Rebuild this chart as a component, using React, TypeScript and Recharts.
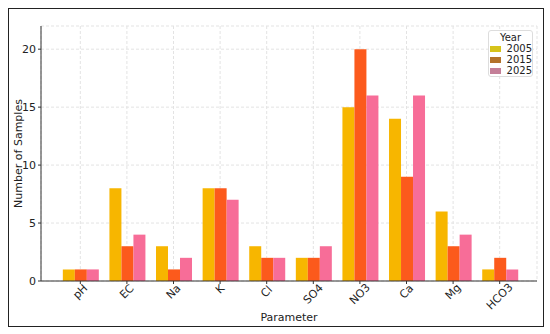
import { BarChart, Bar, XAxis, YAxis, CartesianGrid, Label } from "recharts";

const PARAMETERS = ["pH", "EC", "Na", "K", "Cl", "SO4", "NO3", "Ca", "Mg", "HCO3"];
const Y2005 = [1, 8, 3, 8, 3, 2, 15, 14, 6, 1];
const Y2015 = [1, 3, 1, 8, 2, 2, 20, 9, 3, 2];
const Y2025 = [1, 4, 2, 7, 2, 3, 16, 16, 4, 1];
const YEARS = ["2005", "2015", "2025"];
const Y_TICKS = [0, 5, 10, 15, 20];

const BAR_COLORS = ["#f7b600", "#fc5a1c", "#f76d98"];
const SWATCH_COLORS = ["#d6c31a", "#b3732b", "#c47f98"];

const data = PARAMETERS.map((p, i) => ({
  name: p,
  "2005": Y2005[i],
  "2015": Y2015[i],
  "2025": Y2025[i],
}));

const FONT = "'DejaVu Sans', sans-serif";

function RotatedTick(props: any) {
  const { x, y, payload } = props;
  const label = String(payload.value);
  const w = label.length * 6.8;
  const half = ((w + 11) * 0.707) / 2;
  return (
    <text
      transform={`translate(${x},${y + half - 3}) rotate(-45)`}
      textAnchor="middle"
      dominantBaseline="central"
      fontSize={11}
      fill="#222"
      fontFamily={FONT}
    >
      {label}
    </text>
  );
}

function YearLegend() {
  return (
    <div
      style={{
        position: "absolute",
        left: 488,
        top: 30,
        width: 45,
        height: 47,
        border: "1px solid #ddd",
        borderRadius: 3,
        background: "rgba(255,255,255,0.85)",
        fontFamily: FONT,
        fontSize: 10,
        color: "#222",
        boxSizing: "border-box",
        paddingTop: 1,
      }}
    >
      <div style={{ textAlign: "center", lineHeight: "11px" }}>Year</div>
      {YEARS.map((yr, i) => (
        <div key={yr} style={{ display: "flex", alignItems: "center", height: 11, paddingLeft: 1 }}>
          <span style={{ display: "inline-block", width: 15, height: 6, background: SWATCH_COLORS[i] }} />
          <span style={{ marginLeft: 6, lineHeight: "11px" }}>{yr}</span>
        </div>
      ))}
    </div>
  );
}

export default function App() {
  return (
    <div style={{ position: "absolute", left: 0, top: 0, width: 550, height: 334, background: "#fff" }}>
      <div
        style={{
          position: "absolute",
          left: 8,
          top: 8,
          width: 536,
          height: 319,
          border: "1.5px solid #222",
          boxSizing: "border-box",
        }}
      />
      <div style={{ position: "absolute", left: 0, top: 0 }}>
        <BarChart
          width={550}
          height={334}
          data={data}
          margin={{ top: 26, right: 13, bottom: 0, left: 0 }}
          barCategoryGap="12.5%"
          barGap={0}
        >
          <CartesianGrid stroke="#e3e3e3" strokeDasharray="3 2" />
          <XAxis
            dataKey="name"
            height={53}
            padding={{ left: 16, right: 14 }}
            axisLine={{ stroke: "#333" }}
            tickLine={{ stroke: "#333" }}
            tickSize={3}
            interval={0}
            tick={<RotatedTick />}
          >
            <Label
              value="Parameter"
              position="insideBottom"
              offset={13}
              style={{ fontSize: 11, fill: "#222", fontFamily: FONT }}
            />
          </XAxis>
          <YAxis
            width={41}
            domain={[0, 22]}
            ticks={Y_TICKS}
            axisLine={{ stroke: "#333" }}
            tickLine={{ stroke: "#333" }}
            tickSize={3}
            tick={{ fontSize: 11, fill: "#222", fontFamily: FONT }}
          >
            <Label
              value="Number of Samples"
              angle={-90}
              position="insideLeft"
              offset={18}
              style={{ textAnchor: "middle", fontSize: 11, fill: "#222", fontFamily: FONT }}
            />
          </YAxis>
          {YEARS.map((yr, i) => (
            <Bar key={yr} dataKey={yr} fill={BAR_COLORS[i]} isAnimationActive={false} />
          ))}
        </BarChart>
      </div>
      <YearLegend />
    </div>
  );
}
